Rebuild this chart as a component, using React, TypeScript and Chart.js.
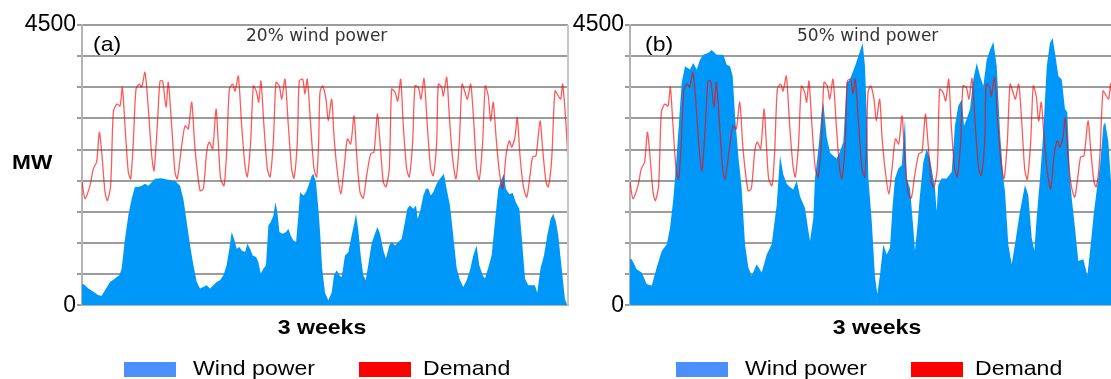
import React, { useEffect, useRef } from 'react';
import { Chart, registerables } from 'chart.js';

Chart.register(...registerables);

// ---------- data (hours across 3 weeks, MW) ----------
const HOURS = 504;
const Y_MAX = 4500;
const Y_STEP = 500;
const yTickLabels = [0, 4500];

const demandHours = [
  0, 3.1, 8.3, 11.7, 15.2, 18, 20.4, 23.9, 26.3, 29.7, 32.5, 36, 39.4, 41.8, 44.6, 48, 50.5, 53.2, 56, 59.4,
  61.9, 65.3, 68.8, 72.3, 74.7, 78.1, 80.9, 83.7, 87.1, 89.5, 93, 96.4, 98.8, 103.4, 106.8, 110.2, 113.8, 117.2, 122.4,
  125.8, 129.3, 132, 135.5, 139, 141.3, 143.8, 147.3, 150, 152.8, 156.2, 158.7, 162.1, 165.6, 169, 171.4, 174.9, 177.7, 181.1, 183.2,
  185.6, 188.7, 192.2, 195, 198.4, 201.2, 204.6, 207.1, 210.5, 214, 217.4, 219.8, 223.3, 225.3, 228.9, 231.2, 233.6, 237.2, 240.6, 243.4, 245.4,
  246.8, 249.6, 253, 255.4, 258.9, 261.3, 264.1, 268.3, 271.7, 275.2, 278.7, 282.1, 284.9, 288.3, 291.7, 295.2, 299.4, 302.8, 306.3, 309,
  312.5, 315.2, 318.7, 321.1, 324.6, 327.4, 330.5, 333.2, 336.7, 339.4, 342.9, 345.3, 348.8, 351.5, 354.7, 358.1, 361.6, 364.3, 367.8, 369.5, 373,
  374.7, 378.2, 380.9, 384.4, 387.8, 391.3, 394.1, 397.2, 399.6, 403.1, 406.5, 409.3, 412, 415.5, 418.2, 421.3, 423.8, 426.5, 429.3, 432.8,
  436.3, 439.7, 443.1, 445.6, 449, 451.4, 454.2, 457.6, 461.2, 464.6, 467.3, 470.8, 475, 477.7, 481.2, 483.6, 487.1, 490.5, 494, 496.4,
  498.5, 502, 504,
];
const demandMW = [
  1980, 1710, 1920, 2190, 2300, 2780, 2460, 1815, 1680, 1920, 3100, 3230, 3200, 3500, 2880, 2140, 2030, 2620, 3470, 3550,
  3500, 3740, 3150, 2400, 2160, 2880, 3600, 3600, 3180, 3580, 2880, 2140, 2030, 2560, 2880, 2830, 3260, 2510, 1840,
  1870, 2460, 2620, 2510, 3150, 2620, 2030, 1920, 2460, 3470, 3550, 3440, 3680, 2880, 2240, 2060, 2620, 3520, 3420, 3260,
  3600, 2880, 2190, 2060, 2620, 3580, 3520, 3310, 3630, 2880, 2190, 2040, 2620, 3600, 3630, 3390, 3630, 2880, 2190, 2060, 2620,
  3420, 3520, 3310, 2960, 3310, 2720, 2240, 1790, 2190, 2670, 2590, 3040, 2400, 1815, 1720, 2080, 2430, 2460, 3070, 2620,
  1976, 1900, 2190, 3470, 3420, 3280, 3630, 2880, 2190, 2060, 2620, 3520, 3500, 3310, 3640, 2880, 2190, 2080, 2620, 3550, 3500,
  3360, 3660, 3040, 2350, 2030, 2620, 3550, 3420, 3310, 3550, 2880, 2190, 2020, 2620, 3520, 3360, 2960, 3260, 2720, 2140,
  1870, 2400, 2640, 2540, 2700, 3010, 2400, 1920, 1735, 2080, 2380, 2400, 2960, 2510, 1976, 1900, 2350, 3440, 3360, 3310,
  3550, 2880, 2300,
];

// (a) 20% wind power
const windAHours = [
  0, 3.1, 6.6, 11.8, 17, 20.4, 23.9, 29, 34.2, 38.7, 41.1, 44.6, 48, 51.5, 54.9, 58.4, 61.9, 65.3, 68.8, 72.3,
  75.7, 82.6, 87.8, 96.4, 101.7, 105.1, 108.6, 112.1, 115.5, 119,
  122.4, 125.8, 129.3, 132.8, 136.2, 139.7, 143.1, 146.6, 150, 152.8, 155.2, 157.7, 160.4, 163.2, 165.6, 169.1, 171.5, 174.3, 177, 180.5,
  182.9, 185.3, 188.1, 190.8, 193.3, 195.7, 198.5, 200.5, 202.6, 204.7, 208.1, 211.6, 214, 216.4, 219.2, 222, 224.4, 226.1, 229.6, 232.3,
  234.8, 238.2, 239.9, 242.7, 245.1, 246.8, 249, 252,
  255.4, 258.9, 261.3, 264.1, 266.9, 269.3, 272.7, 276.2, 279.6, 282.1, 284.1, 286.6, 289, 291.7, 294.2, 296.9, 300.4, 303.8, 306.3, 309,
  312.5, 315.2, 318.7, 321.1, 324.6, 328, 331.5, 334.9, 337.4, 340.1, 343.6, 346.4, 348.1, 350.5, 354, 356.7, 359.2, 361.6, 364.3, 367.8,
  371.2, 375.3, 378.1, 381.6, 385, 388.5, 392, 395.4, 398.9, 402.3, 405.8, 409.2, 412, 415.5, 417.9, 421.3, 424.8, 428.2, 431.7, 435.2,
  437.6, 439.6, 443.1, 446.6, 450, 453.5, 455.9, 459.4, 462.8, 466.3, 469.7, 472.1, 475.6, 479.1, 482.5, 486, 488.7, 491.5, 493.9, 497.4,
  500.8, 503.3, 504,
];
const windAMW = [
  347, 320, 267, 214, 160, 150, 240, 374, 427, 480, 587, 1068, 1440, 1710, 1900, 1900, 1920, 1950, 1920, 1976,
  2030, 2040, 2020, 2000, 1920, 1710, 1335, 960, 640, 374,
  267, 294, 320, 267, 320, 374, 400, 480, 640, 908, 1175, 1068, 908, 935, 880, 854, 988, 908, 800, 774,
  694, 507, 587, 640, 1280, 1335, 1440, 1655, 1495, 1175, 1148, 1175, 1228, 1121, 1041, 1015, 1440, 1815, 1760, 1815,
  1920, 2080, 2110, 1976, 1550, 1200, 600, 200,
  80, 200, 480, 560, 480, 450, 800, 850, 1121, 1300, 1470, 1200, 800, 480, 400, 650, 1000, 1148, 1255, 1150,
  880, 750, 960, 1015, 960, 1015, 1068, 1335, 1550, 1600, 1550, 1600, 1390, 1500, 1760, 1870, 1870, 1760, 1815, 1950,
  2030, 2110, 1870, 1600, 1121, 600, 400, 294, 400, 560, 800, 960, 640, 480, 427, 600, 800, 1335, 1870, 2030,
  2110, 1870, 1780, 1800, 1650, 1550, 1121, 427, 320, 320, 320, 200, 600, 800, 1121, 1390, 1470, 1335, 1121, 600,
  100, 0, 0,
];

// (b) 50% wind power
const windBHours = [
  0, 1.8, 6.9, 12.1, 17.3, 22.5, 27.7, 32.9, 38.1, 41.5, 44.9, 46.7, 50.1, 53.6, 57, 62.2, 65.6, 69.2, 72.6, 76,
  81.2, 84.7, 89.9, 96.8, 100.3, 103.7, 106.5, 108.9, 112.3, 115.8, 119.3, 122.7, 126.2, 131.4, 136.6, 141.8, 146.9, 150.4, 152.1, 155.6,
  159, 162.5, 165.9, 169.3, 172.9, 176.3, 181.5, 184.9, 186.7, 190.1, 191.8, 195.3, 198.8, 200.5, 204, 207.4, 210.8, 214.3, 217.7, 221.2,
  224.7, 228.1, 233.3, 236.7, 241.3, 243.7, 246.1, 247.2, 250.7, 254.1, 256.5, 259.3, 262.7, 266.2, 269.6, 272.4, 274.8, 278.3, 281.8, 285.2,
  287, 290.4, 293.8, 295.5, 297.9, 300.7, 304.2, 307.7, 311.1, 314.5, 316.3, 318, 319.7, 323.2, 328.4, 333.6, 337, 340.4, 344, 346.4,
  349.2, 352.6, 356, 359.6, 363, 366.4, 369.9, 373.3, 376.8, 380.3, 383.7, 387.1, 388.9, 392.3, 395.8, 399.2, 404.4, 409.6, 413, 416.6,
  419.3, 421.7, 425.2, 428.6, 432.2, 435.5, 438.3, 441.8, 444.2, 447.7, 451.1, 453.5, 456.3, 458.1, 461.5, 464.9, 470.1, 474.3, 477.8, 481.2,
  484.7, 487.5, 490.9, 492.7, 496.1, 498.6, 501, 504,
];
const windBMW = [
  740, 736, 577, 525, 339, 313, 604, 870, 975, 1240, 1700, 2035, 2777, 3570, 3837, 3784, 3890, 3784, 3943, 4022,
  4050, 4100, 4022, 4022, 3860, 3837, 3680, 3040, 2405, 1876, 975, 604, 472, 657, 525, 816, 975, 1400, 1600, 2400,
  2100, 1950, 1900, 1860, 2000, 1750, 1558, 1200, 1033, 1400, 2035, 2500, 3100, 3250, 2700, 2450, 2400, 2350, 2465, 2620,
  3570, 3625, 3837, 3996, 4210, 3837, 2800, 2035, 1350, 445, 180, 498, 975, 816, 922, 1610, 2035, 2194, 2247, 2990,
  2035, 1876, 1240, 875, 1240, 1770, 2300, 2512, 2353, 2035, 1876, 1505, 1930, 2035, 2035, 2140, 2880, 3200, 3305, 2880,
  2990, 3150, 3625, 3890, 3680, 3520, 3943, 4100, 4230, 3837, 2777, 2035, 1823, 975, 657, 975, 1505, 1930, 1770, 1081,
  875, 1400, 2035, 2777, 3837, 4210, 4290, 3943, 3680, 3625, 3150, 3100, 2035, 1717, 1240, 710, 736, 472, 975, 1505,
  1930, 2247, 2880, 2940, 2620, 2035, 1500, 1200,
];

const panelLetters = ['(a)', '(b)'];
const panelTitles = ['20% wind power', '50% wind power'];
const seriesNames = ['Wind power', 'Demand'];
const xAxisTitle = '3 weeks';
const yAxisTitle = 'MW';

// ---------- styling ----------
const FONT = "Arial, 'Liberation Sans', Helvetica, sans-serif";
const WIND_FILL = '#0098f8';
const WIND_LEGEND = '#4a8ffc';
const DEMAND_LINE = 'rgba(255,0,0,0.65)';
const DEMAND_LEGEND = '#ff0000';

function pts(xs: number[], ys: number[]) {
  return xs.map((x, i) => ({ x, y: ys[i] }));
}

function Panel({ left, windHours, windMW }: { left: number; windHours: number[]; windMW: number[] }) {
  const ref = useRef<HTMLCanvasElement | null>(null);
  useEffect(() => {
    if (!ref.current) return;
    const frame = {
      id: 'frameRight',
      afterDatasetsDraw(chart: any) {
        const { ctx, chartArea: a } = chart;
        ctx.save();
        ctx.strokeStyle = '#c8c8c8';
        ctx.lineWidth = 2;
        ctx.beginPath();
        ctx.moveTo(a.right, a.top);
        ctx.lineTo(a.right, a.bottom);
        ctx.stroke();
        ctx.restore();
      },
    };
    const chart = new Chart(ref.current, {
      type: 'line',
      data: {
        datasets: [
          {
            label: seriesNames[1],
            data: pts(demandHours, demandMW),
            borderColor: DEMAND_LINE,
            borderWidth: 1.3,
            pointRadius: 0,
            fill: false,
            tension: 0.25,
            order: 0,
          },
          {
            label: seriesNames[0],
            data: pts(windHours, windMW),
            borderColor: WIND_FILL,
            backgroundColor: WIND_FILL,
            borderWidth: 0,
            pointRadius: 0,
            fill: 'origin',
            tension: 0,
            order: 1,
          },
        ],
      },
      options: {
        responsive: false,
        animation: false,
        layout: { padding: { left: 0, right: 12, top: 25, bottom: 12 } },
        plugins: { legend: { display: false }, tooltip: { enabled: false } },
        scales: {
          x: {
            type: 'linear',
            min: 0,
            max: HOURS,
            grid: { display: false },
            ticks: { display: false },
            border: { color: '#b4b4b4', width: 2 },
            afterFit: (s: any) => {
              s.height = 0;
            },
          },
          y: {
            min: 0,
            max: Y_MAX,
            ticks: {
              stepSize: Y_STEP,
              autoSkip: false,
              callback: (v: any) => (yTickLabels.includes(Number(v)) ? String(v) : ''),
              font: { family: FONT, size: 23 },
              color: '#000',
              padding: 1,
            },
            grid: { color: '#9c9c9c', lineWidth: 2, tickLength: 5 },
            border: { color: '#b4b4b4', width: 2 },
            afterFit: (s: any) => {
              s.width = 82;
            },
          },
        },
      } as any,
      plugins: [frame],
    });
    return () => chart.destroy();
  }, []);
  return (
    <canvas
      ref={ref}
      width={580}
      height={320}
      style={{ position: 'absolute', left, top: 0, width: 580, height: 320 }}
    />
  );
}

function T({
  x, y, size, bold, color, family, center, sx, children,
}: {
  x: number; y: number; size: number; bold?: boolean; color?: string; family?: string; center?: boolean; sx?: number; children: React.ReactNode;
}) {
  const scale = sx ?? 1;
  return (
    <div
      style={{
        position: 'absolute',
        left: x,
        top: y,
        fontFamily: family ?? FONT,
        fontSize: size,
        fontWeight: bold ? 700 : 400,
        color: color ?? '#000',
        lineHeight: 1,
        whiteSpace: 'nowrap',
        transform: center ? `translateX(-50%) scaleX(${scale})` : `scaleX(${scale})`,
        transformOrigin: center ? 'center' : 'left',
      }}
    >
      {children}
    </div>
  );
}

function Legend({ x }: { x: number }) {
  return (
    <>
      <div style={{ position: 'absolute', left: x, top: 362, width: 52, height: 15, background: WIND_LEGEND }} />
      <T x={x + 69} y={357} size={21} sx={1.1}>{seriesNames[0]}</T>
      <div style={{ position: 'absolute', left: x + 235, top: 362, width: 52, height: 15, background: DEMAND_LEGEND }} />
      <T x={x + 299} y={357} size={21} sx={1.1}>{seriesNames[1]}</T>
    </>
  );
}

export default function App() {
  return (
    <div
      style={{
        position: 'fixed',
        left: 0,
        top: 0,
        width: 1111,
        height: 379,
        overflow: 'hidden',
        background: '#fff',
      }}
    >
      <Panel left={0} windHours={windAHours} windMW={windAMW} />
      <Panel left={548} windHours={windBHours} windMW={windBMW} />

      <T x={12} y={151} size={21} bold sx={1.08}>{yAxisTitle}</T>

      <T x={93} y={33} size={21} sx={1.1}>{panelLetters[0]}</T>
      <T x={246} y={27} size={17} color="#333" family="'DejaVu Sans', Verdana, sans-serif">{panelTitles[0]}</T>
      <T x={645} y={33} size={21} sx={1.1}>{panelLetters[1]}</T>
      <T x={797} y={27} size={17} color="#333" family="'DejaVu Sans', Verdana, sans-serif">{panelTitles[1]}</T>

      <T x={322} y={316} size={21} bold center sx={1.1}>{xAxisTitle}</T>
      <T x={877} y={316} size={21} bold center sx={1.1}>{xAxisTitle}</T>

      <Legend x={124} />
      <Legend x={676} />
    </div>
  );
}
